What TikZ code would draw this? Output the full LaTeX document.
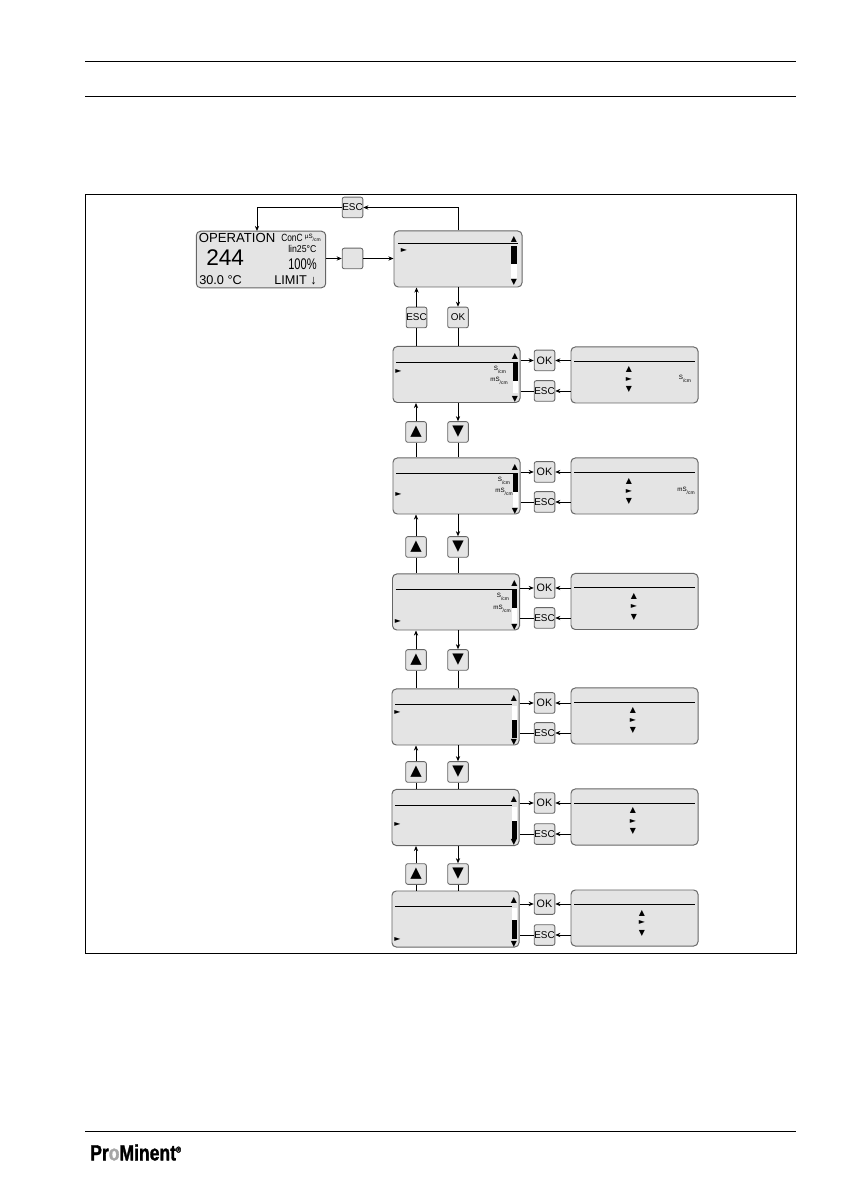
\documentclass[tikz,border=0pt]{standalone}
\usepackage{fontspec}
\setmainfont{Liberation Sans}
\newfontfamily\symfont{DejaVu Sans}
\newfontfamily\logofont[BoldFeatures={FakeBold=1.6}]{Liberation Sans}
\usetikzlibrary{arrows.meta, positioning}
\definecolor{panel}{HTML}{E4E4E4}
\definecolor{edge}{HTML}{666666}
\newcommand{\unitlabel}[1]{\raisebox{1.2pt}{\fontsize{4.4}{4}\selectfont #1}\raisebox{-.6pt}{/cm}}

\begin{document}
\begin{tikzpicture}[
    x=0.707pt, y=-0.707pt,
    panelbox/.style={rectangle, draw=edge, fill=panel, line width=0.7pt, rounded corners=3pt, minimum width=89.8pt, minimum height=39.6pt, inner sep=0pt},
    keybox/.style={rectangle, draw=edge, fill=panel, line width=0.6pt, rounded corners=1.5pt, minimum size=14.6pt, inner sep=0pt, font=\fontsize{7}{7}\selectfont},
    glyph/.style={inner sep=0pt, font=\symfont\fontsize{5.6}{6}\selectfont},
    bigglyph/.style={inner sep=0pt, font=\symfont\fontsize{10.5}{11}\selectfont},
    unit/.style={inner sep=0pt, font=\fontsize{3.5}{4}\selectfont},
    disp/.style={inner sep=0pt, anchor=west},
    rule/.style={line width=0.6pt},
    arrow/.style={-{Stealth[length=3.6pt, width=3pt]}, line width=0.5pt},
    link/.style={line width=0.5pt}
  ]
    \useasboundingbox (0,1) rectangle (842,1192);
    \draw[rule] (85,62) -- (796,62);
    \draw[rule] (85,97) -- (796,97);
    \draw[rule] (85,1132) -- (796,1132);
    \draw[rule] (85,195) rectangle (796,954);

    \begin{scope}[yshift=-0.7pt]
    % start display
    \node[panelbox, minimum width=91.5pt, minimum height=40pt] (display) at (261,259.5) {};
    \node[disp, font=\fontsize{9.3}{10}\selectfont] (operation) at (198.5,238) {OPERATION};
    \node[disp, font=\fontsize{16}{17}\selectfont] (value) at (206,258) {244};
    \node[disp, font=\fontsize{9}{10}\selectfont] (temp) at (199,280) {30.0 °C};
    \node[disp, font=\fontsize{7.4}{8}\selectfont] (conc) at (281,238) {\scalebox{.8}[1]{ConC}};
    \node[unit, right=1.2pt of conc] (concunit) {\unitlabel{µS}};
    \node[disp, font=\fontsize{7}{8}\selectfont] (lin) at (288,249) {\scalebox{.88}[1]{lin25°C}};
    \node[disp, font=\fontsize{10.9}{12}\selectfont] (percent) at (288,264) {\scalebox{.72}[1]{100\%}};
    \node[disp, font=\fontsize{9}{10}\selectfont] (limit) at (274,280) {LIMIT ↓};

    % first menu
    \node[keybox] (esctop) at (352.5,207.5) {ESC};
    \node[keybox] (blank) at (352.5,258.5) {};
    \node[panelbox, minimum width=90.5pt] (menu0) at (458,259) {};
    \node[keybox] (esc0) at (416.5,317.5) {ESC};
    \node[keybox] (ok0) at (458,317.5) {OK};
    \coordinate (displaytop) at (257,231);
    \draw[rule] (398,243) -- (518,243);
    \fill[white] (511,246) rectangle (517,278);
    \fill[black] (511,246) rectangle (517,264);
    \node[glyph] (cur0) at (404,250) {►};
    \node[glyph] (up0) at (514,239) {▲};
    \node[glyph] (down0) at (514,282) {▼};

    \draw[arrow] (ok0 |- menu0.north) |- (esctop);
    \draw[arrow] (esctop) -| (displaytop);
    \draw[arrow] (display.east |- blank) -- (blank);
    \draw[arrow] (blank) -- (menu0.west |- blank);
    \draw[arrow] (esc0) -- (esc0 |- menu0.south);
    \draw[arrow] (ok0 |- menu0.south) -- (ok0);

    % menu rows: x, y, cursor, OK, ESC, info y, glyphs, bar
    \foreach \i/\mx/\my/\cur/\oky/\esy/\ry/\tx/\ta/\tb/\tc/\wa/\wb/\ka/\kb in {
        1/456.5/374.5/371/360.5/391/375/629/369/379/389/362/393/362/381,
        2/456.5/486/494/472/502/486/629/481/491/501/473/507/473/492,
        3/456/602/621/588/618/601.5/634/596/606/617/589/623/589/608,
        4/455.5/717/712/703/733/716/633/710/720/730/706/738/720/738,
        5/455.5/817.5/824/803/834/817/633/810/821/831/807/839/821/839,
        6/455.5/919/939/904/935/918/642/913/922/933/908/939/920/939} {
      \node[panelbox] (menu\i) at (\mx,\my) {};
      \node[panelbox] (info\i) at (634.5,\ry) {};
      \node[keybox, font=\fontsize{7.6}{8}\selectfont] (ok\i) at (544.5,\oky) {OK};
      \node[keybox] (esc\i) at (544.5,\esy) {ESC};
      \draw[rule] ({\mx-60.5},{\my-12.5}) -- ({\mx+56},{\my-12.5});
      \draw[rule] (574,{\ry-13.7}) -- (695,{\ry-13.7});
      \fill[white] ({\mx+56},\wa) rectangle ({\mx+61},\wb);
      \fill[black] ({\mx+56},\ka) rectangle ({\mx+61},\kb);
      \node[glyph] (cur\i) at ({\mx-58},\cur) {►};
      \node[glyph] (up\i) at ({\mx+58.5},{\my-18.5}) {▲};
      \node[glyph] (down\i) at ({\mx+58.5},{\my+25}) {▼};
      \node[glyph] (infoup\i) at (\tx,\ta) {▲};
      \node[glyph] (infocur\i) at (\tx,\tb) {►};
      \node[glyph] (infodown\i) at (\tx,\tc) {▼};
      \draw[arrow] (menu\i.east |- ok\i) -- (ok\i);
      \draw[arrow] (info\i.west |- ok\i) -- (ok\i);
      \draw[link] (menu\i.east |- esc\i) -- (esc\i);
      \draw[arrow] (info\i.west |- esc\i) -- (esc\i);
    }
    \draw[link] (esc0) -- (esc0 |- menu1.north);
    \draw[link] (ok0) -- (ok0 |- menu1.north);

    % keys between the rows
    \foreach \i/\j/\ky in {1/2/432, 2/3/547, 3/4/660, 4/5/772, 5/6/874} {
      \node[keybox] (keyup\i) at (416,\ky) {};
      \node[keybox] (keydown\i) at (458,\ky) {};
      \node[bigglyph] (glyphup\i) at (keyup\i) {▲};
      \node[bigglyph] (glyphdown\i) at (keydown\i) {▼};
      \draw[arrow] (keyup\i) -- (keyup\i |- menu\i.south);
      \draw[link] (keyup\i) -- (keyup\i |- menu\j.north);
      \draw[arrow] (keydown\i |- menu\i.south) -- (keydown\i);
      \draw[link] (keydown\i) -- (keydown\i |- menu\j.north);
    }

    % units
    \node[unit] (unitS1) at (500,370) {\unitlabel{S}};
    \node[unit] (unitmS1) at (499,381) {\unitlabel{mS}};
    \node[unit] (unitS2) at (504,481) {\unitlabel{S}};
    \node[unit] (unitmS2) at (504,492) {\unitlabel{mS}};
    \node[unit] (unitS3) at (503,597) {\unitlabel{S}};
    \node[unit] (unitmS3) at (502,609) {\unitlabel{mS}};
    \node[unit] (infounit1) at (685,379) {\unitlabel{S}};
    \node[unit] (infounit2) at (686,491) {\unitlabel{mS}};
    \end{scope}

    % logo
    \node[inner sep=0pt, anchor=west, font=\logofont\bfseries\fontsize{15.5}{16}\selectfont] (logo) at (90,1153.5) {\scalebox{.8}[1]{Pr\textcolor{gray!70}{o}Minent\raisebox{5.5pt}{\fontsize{6}{6}\selectfont ®}}};
  \end{tikzpicture}
\end{document}
